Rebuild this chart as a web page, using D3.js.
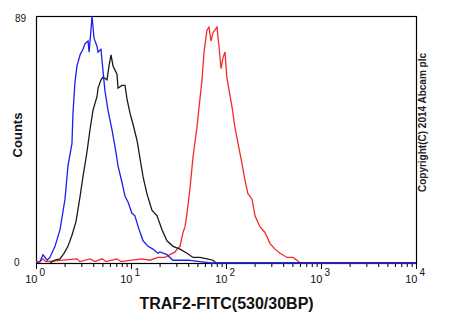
<!DOCTYPE html>
<html>
<head>
<meta charset="utf-8">
<script src="https://cdn.jsdelivr.net/npm/d3@7"></script>
<style>
  html, body { margin: 0; padding: 0; background: #fff; }
  svg { display: block; font-family: Arial, "Liberation Sans", sans-serif; }
</style>
</head>
<body>
<svg id="chart" width="450" height="330"></svg>
<script>
// ---- data (fluorescence intensity, event counts) ----
const blueIntensity = [1.00, 1.10, 1.185, 1.31, 1.40, 1.585, 1.79, 2.02, 2.17, 2.39, 2.45, 2.57, 2.70, 2.91, 3.12, 3.28, 3.53, 3.62, 3.79, 3.89, 4.08, 4.39, 4.50, 4.83, 4.95, 5.32, 5.73, 6.31, 6.78, 7.30, 8.04, 8.65, 9.30, 10.2, 11.0, 11.9, 13.4, 15.1, 17.0, 19.2, 20.2, 23.9, 27.7, 40.0, 53.0, 70.0, 10000];
const blueCounts    = [0, 0.5, 3, 1, 2, 6, 12, 23, 35, 43, 54, 65, 71, 75, 77, 79, 80, 76, 84, 89, 81, 78, 76, 77, 73, 62, 55, 48, 42, 35, 29, 24, 22, 18, 17, 13, 8, 6, 5, 3.5, 4, 3, 1, 1, 0.5, 0, 0];

const blackIntensity = [1.40, 1.585, 1.79, 1.97, 2.17, 2.39, 2.64, 2.91, 3.12, 3.44, 3.70, 3.98, 4.39, 4.50, 4.83, 5.08, 5.59, 5.87, 6.16, 6.47, 7.12, 7.30, 8.04, 8.65, 9.08, 9.76, 10.5, 11.6, 12.4, 13.4, 14.7, 16.6, 18.8, 21.2, 23.9, 27.7, 32.8, 38.9, 44.9, 53.2, 63.1, 73.0, 78.5, 10000];
const blackCounts    = [0, 1, 1.5, 3.5, 6, 10, 15, 24, 31, 40, 48, 55, 60, 63, 66, 67, 66, 71, 75, 71, 68, 63, 64, 64, 59, 54, 50, 44, 38, 31, 25, 19, 17, 12, 8, 6, 5, 3.5, 2, 2, 1.5, 1, 0, 0];

const redIntensity = [1.00, 1.10, 1.185, 1.27, 2.70, 2.91, 3.70, 4.18, 4.95, 5.46, 7.12, 7.85, 10.2, 13.1, 15.8, 19.2, 22.8, 25.7, 29.1, 30.5, 32.8, 35.3, 37.0, 38.9, 41.8, 44.9, 49.5, 52.0, 55.9, 58.7, 63.1, 66.2, 69.5, 73.0, 80.4, 84.4, 88.6, 93.0, 97.6, 102, 108, 116, 124, 134, 147, 158, 170, 188, 202, 228, 257, 291, 328, 370, 439, 507, 559, 601, 10000];
const redCounts    = [0.5, 0.5, 1.5, 0.5, 1.5, 0.5, 1.5, 0.5, 1.5, 0.5, 1.5, 0.5, 1, 1.5, 1, 2, 2, 3, 4, 5, 6, 11, 13, 18, 27, 38, 49, 56, 66, 76, 84, 85, 80, 83, 85, 78, 70, 74, 76, 67, 62, 56, 49, 43, 36, 30, 25, 23, 17, 13, 11, 7, 5, 3.5, 2, 2, 1, 0, 0];

const decadeExponents = [0, 1, 2, 3, 4];
const yTickLabels = ["0", "89"];
const xTitle = "TRAF2-FITC(530/30BP)";
const yTitle = "Counts";
const copyright = "Copyright(C) 2014 Abcam plc";

// ---- layout ----
const plot = { left: 36, right: 416, top: 16, bottom: 263 };
const svg = d3.select("#chart");

const x = d3.scaleLog().domain([1, 10000]).range([plot.left, plot.right]);
const y = d3.scaleLinear().domain([0, 89]).range([plot.bottom, plot.top]);

// minor ticks
const minorTicks = [];
decadeExponents.slice(0, -1).forEach(e => {
  for (let m = 2; m <= 9; m++) minorTicks.push(m * Math.pow(10, e));
});
const majorTicks = decadeExponents.map(e => Math.pow(10, e));

svg.append("g")
  .attr("transform", `translate(0,${plot.bottom})`)
  .call(d3.axisBottom(x).tickValues(minorTicks).tickSize(4).tickFormat(""))
  .call(g => g.select(".domain").remove())
  .call(g => g.selectAll("line").attr("stroke", "#000").attr("stroke-width", 1));

svg.append("g")
  .attr("transform", `translate(0,${plot.bottom})`)
  .call(d3.axisBottom(x).tickValues(majorTicks).tickSize(6).tickFormat(""))
  .call(g => g.select(".domain").remove())
  .call(g => g.selectAll("line").attr("stroke", "#000").attr("stroke-width", 1));

// decade labels 10^n
const lbl = svg.append("g");
decadeExponents.forEach(e => {
  const px = x(Math.pow(10, e));
  lbl.append("text").attr("x", px + 1.5).attr("y", 283)
    .attr("text-anchor", "end").attr("font-size", 11).attr("fill", "#111").text("10");
  lbl.append("text").attr("x", px + 3.5).attr("y", 276)
    .attr("text-anchor", "start").attr("font-size", 10).attr("fill", "#111").text(String(e));
});

// y labels
svg.append("text").attr("x", 14).attr("y", y(0) + 3).attr("font-size", 10).attr("fill", "#111").text(yTickLabels[0]);
svg.append("text").attr("x", 15).attr("y", y(89) + 6).attr("font-size", 10).attr("fill", "#111").text(yTickLabels[1]);

// series
const line = d3.line().x(d => x(d[0])).y(d => y(d[1])).curve(d3.curveLinear);
const series = [
  { xs: redIntensity, ys: redCounts, color: "#f22a2a" },
  { xs: blackIntensity, ys: blackCounts, color: "#1a1a1a" },
  { xs: blueIntensity, ys: blueCounts, color: "#1f1fe8" }
];

// frame
svg.append("rect")
  .attr("x", plot.left + 0.5).attr("y", plot.top + 0.5)
  .attr("width", plot.right - plot.left).attr("height", plot.bottom - plot.top)
  .attr("fill", "none").attr("stroke", "#000").attr("stroke-width", 1.2);

series.forEach(s => {
  svg.append("path")
    .datum(s.xs.map((v, i) => [v, s.ys[i]]))
    .attr("d", line)
    .attr("fill", "none")
    .attr("stroke", s.color)
    .attr("stroke-width", 1.3)
    .attr("stroke-linejoin", "miter");
});

// titles
svg.append("text").attr("x", 226.5).attr("y", 309)
  .attr("text-anchor", "middle").attr("font-size", 16).attr("font-weight", "bold").attr("fill", "#111")
  .text(xTitle);

svg.append("text").attr("transform", "translate(22,135) rotate(-90)")
  .attr("text-anchor", "middle").attr("font-size", 13).attr("font-weight", "bold").attr("fill", "#111")
  .text(yTitle);

svg.append("text").attr("transform", "translate(426,122.5) rotate(-90)")
  .attr("text-anchor", "middle").attr("font-size", 10).attr("font-weight", "bold").attr("fill", "#222")
  .text(copyright);
</script>
</body>
</html>
